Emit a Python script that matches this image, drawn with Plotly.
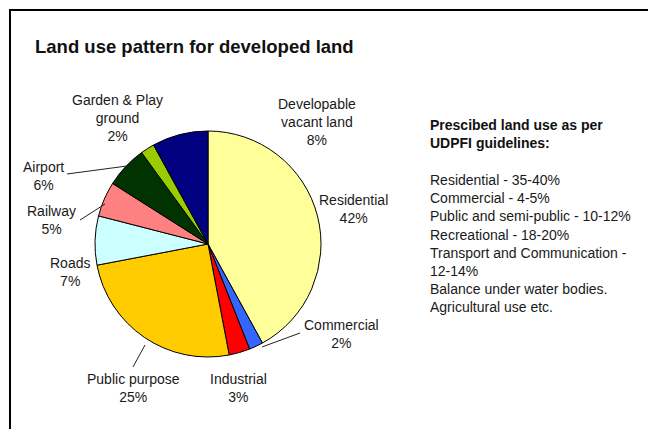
import plotly.graph_objects as go

# Figure sized to fit inside the page's default 8px body margin
W, H = 640, 421
OFF = 8

categories = ["Residential", "Commercial", "Industrial", "Public purpose", "Roads",
              "Railway", "Airport", "Garden & Play ground", "Developable vacant land"]
display_labels = ["Residential", "Commercial", "Industrial", "Public purpose", "Roads",
                  "Railway", "Airport", "Garden & Play<br>ground", "Developable<br>vacant land"]
values = [42, 2, 3, 25, 7, 5, 6, 2, 8]
colors = ["#FFFF99", "#3366FF", "#FF0000", "#FFCC00", "#CCFFFF",
          "#FF8080", "#003300", "#99CC00", "#000080"]

guideline_title = ["Prescibed land use as per", "UDPFI guidelines:"]
guideline_lines = ["Residential - 35-40%", "Commercial - 4-5%", "Public and semi-public - 10-12%",
                   "Recreational - 18-20%", "Transport and Communication -", "12-14%",
                   "Balance under water bodies.", "Agricultural use etc."]

def px(x):
    return (x - OFF) / W

def py(y):
    return 1 - (y - OFF) / H

cx, cy, r = 208, 244, 113

fig = go.Figure(go.Pie(
    labels=categories, values=values, sort=False, direction="clockwise", rotation=0,
    marker=dict(colors=colors, line=dict(color="black", width=1)),
    textinfo="none", hoverinfo="label+percent", showlegend=False,
    domain=dict(x=[px(cx - r), px(cx + r)], y=[py(cy + r), py(cy - r)]),
))

label_pos = {
    "Residential": (353, 209),
    "Commercial": (341, 334),
    "Industrial": (238, 388),
    "Public purpose": (133, 388),
    "Roads": (70, 272),
    "Railway": (51, 220),
    "Airport": (43, 176),
    "Garden & Play ground": (117, 118),
    "Developable vacant land": (317, 122),
}

font = "Liberation Sans, Arial, sans-serif"
annotations = []
for cat, lab, v in zip(categories, display_labels, values):
    x, y = label_pos[cat]
    annotations.append(dict(
        x=px(x), y=py(y), xref="paper", yref="paper", showarrow=False,
        text=f"{lab}<br>{v}%", align="center", xanchor="center", yanchor="middle",
        font=dict(family=font, size=14, color="#1a1a1a"),
    ))

annotations.append(dict(
    x=px(33), y=py(47), xref="paper", yref="paper", showarrow=False,
    text="<b>Land use pattern for developed land</b>", xanchor="left", yanchor="middle",
    font=dict(family=font, size=18.5, color="#111111"),
))

ys_title = [125, 143]
for t, y in zip(guideline_title, ys_title):
    annotations.append(dict(
        x=px(428), y=py(y), xref="paper", yref="paper", showarrow=False,
        text=f"<b>{t}</b>", xanchor="left", yanchor="middle",
        font=dict(family=font, size=14, color="#111111"),
    ))
for i, t in enumerate(guideline_lines):
    annotations.append(dict(
        x=px(428), y=py(180 + 18.2 * i), xref="paper", yref="paper", showarrow=False,
        text=t, xanchor="left", yanchor="middle",
        font=dict(family=font, size=14, color="#1a1a1a"),
    ))

leaders = [((67, 174), (127, 166)), ((80, 220), (105, 204)),
           ((133, 367), (145, 345)), ((300, 333), (262, 347))]
shapes = [dict(type="line", xref="paper", yref="paper", x0=px(a[0]), y0=py(a[1]),
               x1=px(b[0]), y1=py(b[1]), line=dict(color="#222222", width=1))
          for a, b in leaders]
shapes.append(dict(type="rect", xref="paper", yref="paper", x0=px(10), y0=py(470),
                   x1=px(700), y1=py(10), line=dict(color="black", width=2)))

fig.update_layout(
    width=W, height=H, margin=dict(l=0, r=0, t=0, b=0),
    paper_bgcolor="white", plot_bgcolor="white",
    annotations=annotations, shapes=shapes,
)

fig.write_html("out.html")
